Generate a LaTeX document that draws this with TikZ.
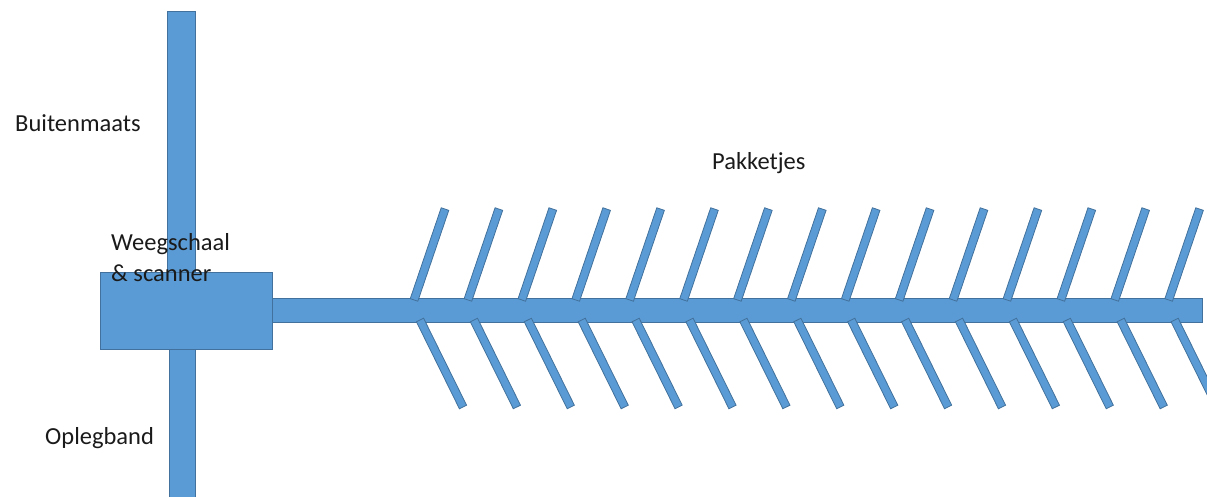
\documentclass[tikz,border=0pt]{standalone}
\usepackage{fontspec}
\setmainfont{Carlito}
\definecolor{beltfill}{HTML}{5B9BD5}
\definecolor{beltline}{HTML}{41719C}
\definecolor{txt}{HTML}{1A1A1A}
\tikzset{
  part/.style={fill=beltfill, draw=beltline, line width=0.8pt},
  chute/.style={part, rectangle, inner sep=0pt, minimum height=8pt},
  upchute/.style={chute, minimum width=96pt, rotate=71.2},
  downchute/.style={chute, minimum width=97pt, rotate=-63.7},
  lbl/.style={font=\fontsize{24.5}{30}\selectfont, text=txt, inner sep=0pt, anchor=base west}
}
\begin{document}
\begin{tikzpicture}[x=1pt,y=-1pt]
\useasboundingbox (0,0) rectangle (1207,497);
\clip (0,0) rectangle (1207,497);
% vertical conveyors
\path[part] (167,11) rectangle (195,272);
\path[part] (169,349) rectangle (195,500);
% main belt
\path[part] (272,298) rectangle (1202,322);
% scale & scanner box
\node[part, rectangle, inner sep=0pt, minimum width=172pt, minimum height=77pt] (box) at (186,310.5) {};
% chutes
\foreach \i in {0,...,14} {
  \node[upchute] (up\i) at ({429.5+53.9*\i},254.5) {};
  \node[downchute] (dn\i) at ({441.5+53.9*\i},363.5) {};
}
% labels
\node[lbl] (buiten) at (15,132) {Buitenmaats};
\node[lbl] (pakket) at (712,170) {Pakketjes};
\node[lbl] (weeg) at (111,251) {Weegschaal};
\node[lbl] (scan) at (111,281) {\& scanner};
\node[lbl] (opleg) at (45,444) {Oplegband};
\end{tikzpicture}
\end{document}
